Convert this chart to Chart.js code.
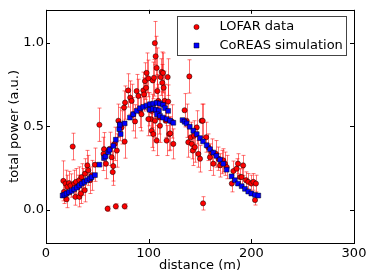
<!DOCTYPE html>
<html>
<head>
<meta charset="utf-8">
<script src="https://cdn.jsdelivr.net/npm/chart.js"></script>
<style>
  html, body { margin: 0; padding: 0; background: #fff; }
  #wrap { width: 374px; height: 280px; position: relative; }
</style>
</head>
<body>
<div id="wrap"><canvas id="chart"></canvas></div>
<script>
// LOFAR measurements (distance in m, power in a.u., error)
const distance = [16.9, 17.5, 19, 20, 20.8, 22.4, 24, 26, 27.5, 28.6, 29.2, 31, 32.5, 32.5, 34, 34.7, 36.4, 38, 37.7, 40.3,
  41.2, 42.9, 44.5, 47.7, 52, 56, 56.5, 58.4, 60, 62, 64, 65, 65.5, 67, 68, 69, 70.5, 72, 73.6, 76,
  76.6, 76.6, 77, 80, 82, 83.4, 85, 86.7, 88.3, 90, 91.6, 93, 94.8, 95.5, 96.4, 97.5, 98, 99.7, 100.6, 101.9,
  103, 104, 105.2, 106, 106.8, 107.8, 108.4, 109.4, 110.4, 111, 111.7, 112.7, 113.3, 114, 114.6, 115.6, 116.6, 117.5, 118.5, 119,
  120, 121, 122.4, 124, 107.8, 104.5, 106.2, 102.9, 99.7,
  135, 137, 138.6, 139.6, 141, 142, 143, 144.2, 145, 146.8, 148.4, 150, 151.6, 152.6, 153, 156, 158, 159.7, 161.4, 163,
  165.6, 168, 169.5, 171, 172.7, 174.3, 176, 181, 182.5, 185.7, 187, 189, 190.6, 192, 194.8, 197, 200, 202, 204.5, 203.6];
const power = [0.173, 0.107, 0.157, 0.062, 0.137, 0.16, 0.145, 0.379, 0.157, 0.077, 0.167, 0.137, 0.177, 0.077, 0.097, 0.196, 0.167, 0.216, 0.117, 0.266,
  0.236, 0.177, 0.206, 0.27, 0.51, 0.335, 0.363, 0.276, 0.006, 0.365, 0.315, 0.226, 0.262, 0.395, 0.02, 0.355, 0.534, 0.514, 0.494, 0.613,
  0.02, 0.409, 0.643, 0.716, 0.673, 0.653, 0.573, 0.53, 0.712, 0.683, 0.593, 0.573, 0.716, 0.692, 0.772, 0.732, 0.821, 0.788, 0.603, 0.544,
  0.474, 0.776, 0.792, 1.0, 0.921, 0.851, 0.712, 0.653, 0.554, 0.504, 0.796, 0.827, 0.762, 0.821, 0.732, 0.653, 0.534, 0.415, 0.796, 0.649,
  0.454, 0.458, 0.53, 0.395, 0.415, 0.454, 0.534, 0.593, 0.544,
  0.597, 0.534, 0.405, 0.8, 0.435, 0.395, 0.355, 0.444, 0.375, 0.494, 0.335, 0.306, 0.534, 0.534, 0.038, 0.435, 0.375, 0.315, 0.345, 0.276,
  0.335, 0.306, 0.266, 0.286, 0.296, 0.276, 0.256, 0.157, 0.232, 0.246, 0.276, 0.196, 0.196, 0.266, 0.177, 0.167, 0.157, 0.167, 0.157, 0.058];
const powerErr = [0.12, 0.07, 0.08, 0.05, 0.07, 0.07, 0.07, 0.08, 0.08, 0.05, 0.08, 0.07, 0.08, 0.06, 0.06, 0.08, 0.08, 0.09, 0.07, 0.09,
  0.09, 0.08, 0.09, 0.1, 0.1, 0.1, 0.1, 0.09, 0.015, 0.1, 0.09, 0.08, 0.09, 0.1, 0.015, 0.1, 0.1, 0.1, 0.1, 0.1,
  0.015, 0.1, 0.1, 0.1, 0.1, 0.1, 0.1, 0.1, 0.1, 0.1, 0.1, 0.1, 0.11, 0.1, 0.11, 0.1, 0.12, 0.11, 0.1, 0.1,
  0.1, 0.11, 0.11, 0.13, 0.12, 0.12, 0.1, 0.1, 0.1, 0.1, 0.11, 0.12, 0.11, 0.12, 0.1, 0.1, 0.1, 0.09, 0.11, 0.1,
  0.1, 0.1, 0.1, 0.09, 0.09, 0.1, 0.1, 0.1, 0.1,
  0.1, 0.1, 0.09, 0.1, 0.09, 0.09, 0.09, 0.09, 0.09, 0.1, 0.08, 0.08, 0.1, 0.1, 0.04, 0.09, 0.08, 0.08, 0.08, 0.07,
  0.08, 0.07, 0.07, 0.07, 0.07, 0.07, 0.07, 0.05, 0.06, 0.06, 0.06, 0.05, 0.05, 0.06, 0.05, 0.05, 0.05, 0.05, 0.05, 0.03];

// CoREAS simulation
const simDistance = [16.2, 18, 20, 22.5, 25, 27.5, 30, 32.5, 35, 37.5, 40, 42.5, 44.5, 47.7, 52, 56.5, 58, 60.7, 62, 65.6,
  68, 71.4, 72.7, 72, 76.6, 81.8, 85, 88.3, 91.6, 94.8, 98, 101.3, 104.5, 107.8, 111, 114, 116, 119, 101, 104,
  107, 110, 108, 111, 114, 117.5, 120.8, 124, 133, 135, 137, 140, 143.5, 146.8, 150, 153, 156.5, 159.7, 163, 166,
  169.5, 172.7, 176, 180.8, 184, 187, 190.6, 193.8, 197, 200, 203.6, 206.8];
const simPower = [0.085, 0.09, 0.097, 0.105, 0.113, 0.123, 0.133, 0.145, 0.157, 0.167, 0.177, 0.187, 0.196, 0.208, 0.27, 0.31, 0.32, 0.345, 0.36, 0.383,
  0.42, 0.484, 0.454, 0.51, 0.518, 0.553, 0.573, 0.593, 0.609, 0.617, 0.625, 0.633, 0.637, 0.641, 0.637, 0.629, 0.61, 0.593, 0.6, 0.605,
  0.6, 0.595, 0.573, 0.563, 0.553, 0.544, 0.534, 0.522, 0.538, 0.528, 0.518, 0.498, 0.474, 0.454, 0.43, 0.41, 0.387, 0.363, 0.343, 0.323,
  0.3, 0.276, 0.24, 0.2, 0.177, 0.157, 0.141, 0.125, 0.109, 0.097, 0.089, 0.085];

const xTicks = [0, 100, 200, 300];
const yTicks = [0, 0.5, 1.0];

Chart.defaults.font.family = "'DejaVu Sans'";
Chart.defaults.font.size = 13;
Chart.defaults.color = '#000';

const errorBars = {
  id: 'errorBars',
  beforeDatasetsDraw(chart) {
    const { ctx, scales: { x, y } } = chart;
    ctx.save();
    ctx.strokeStyle = 'rgba(255,0,0,0.55)';
    ctx.lineWidth = 1;
    distance.forEach((d, i) => {
      const px = Math.round(x.getPixelForValue(d)) + 0.5;
      const top = y.getPixelForValue(power[i] + powerErr[i]);
      const bot = y.getPixelForValue(power[i] - powerErr[i]);
      ctx.beginPath();
      ctx.moveTo(px, top); ctx.lineTo(px, bot);
      ctx.moveTo(px - 2, top); ctx.lineTo(px + 2, top);
      ctx.moveTo(px - 2, bot); ctx.lineTo(px + 2, bot);
      ctx.stroke();
    });
    ctx.restore();
  }
};

const frame = {
  id: 'frame',
  afterDraw(chart) {
    const { ctx, chartArea: a, scales: { x, y } } = chart;
    ctx.save();
    ctx.strokeStyle = '#000';
    ctx.lineWidth = 1;
    ctx.strokeRect(Math.round(a.left) + 0.5, Math.round(a.top) + 0.5,
      Math.round(a.right - a.left), Math.round(a.bottom - a.top));
    ctx.beginPath();
    xTicks.forEach(v => {
      const px = Math.round(x.getPixelForValue(v)) + 0.5;
      ctx.moveTo(px, a.bottom); ctx.lineTo(px, a.bottom - 4);
      ctx.moveTo(px, a.top); ctx.lineTo(px, a.top + 4);
    });
    yTicks.forEach(v => {
      const py = Math.round(y.getPixelForValue(v)) + 0.5;
      ctx.moveTo(a.left, py); ctx.lineTo(a.left + 4, py);
      ctx.moveTo(a.right, py); ctx.lineTo(a.right - 4, py);
    });
    ctx.stroke();

    // legend box in the upper right of the plot
    const bx = Math.round(a.right) - 7.5, by = Math.round(a.top) + 6.5;
    const bw = 169, bh = 39;
    ctx.fillStyle = '#fff';
    ctx.strokeStyle = '#444';
    ctx.fillRect(bx - bw, by, bw, bh);
    ctx.strokeRect(bx - bw, by, bw, bh);
    const ds = chart.data.datasets;
    const rows = [ds[1], ds[0]];
    ctx.font = "13px 'DejaVu Sans'";
    ctx.textBaseline = 'middle';
    rows.forEach((d, i) => {
      const cy = by + 10.5 + i * 18.5;
      const mx = bx - bw + 19;
      ctx.fillStyle = d.backgroundColor;
      ctx.strokeStyle = '#000';
      ctx.lineWidth = 0.5;
      ctx.beginPath();
      if (d.pointStyle === 'rect') ctx.rect(mx - 2.5, cy - 2.5, 5, 5);
      else ctx.arc(mx, cy, 2.6, 0, Math.PI * 2);
      ctx.fill(); ctx.stroke();
      ctx.fillStyle = '#000';
      ctx.fillText(d.label, bx - bw + 42, cy);
    });
    ctx.restore();
  }
};

new Chart(document.getElementById('chart'), {
  type: 'scatter',
  data: {
    datasets: [
      {
        label: 'CoREAS simulation',
        data: simDistance.map((d, i) => ({ x: d, y: simPower[i] })),
        backgroundColor: '#0000ff',
        borderColor: '#000',
        borderWidth: 0.5,
        pointStyle: 'rect',
        pointRadius: 3.4,
        order: 0
      },
      {
        label: 'LOFAR data',
        data: distance.map((d, i) => ({ x: d, y: power[i] })),
        backgroundColor: '#ff0000',
        borderColor: '#000',
        borderWidth: 0.5,
        pointStyle: 'circle',
        pointRadius: 2.6,
        order: 1
      }
    ]
  },
  options: {
    responsive: true,
    maintainAspectRatio: false,
    animation: false,
    devicePixelRatio: 1,
    layout: { padding: { top: 8, right: 20, left: 0, bottom: 0 } },
    plugins: { legend: { display: false }, tooltip: { enabled: false } },
    scales: {
      x: {
        type: 'linear',
        min: 0, max: 300,
        afterBuildTicks: s => { s.ticks = xTicks.map(v => ({ value: v })); },
        afterFit: s => { s.height = 37; },
        ticks: { padding: 3, maxRotation: 0 },
        grid: { display: false, drawTicks: false },
        border: { display: false },
        title: { display: true, text: 'distance (m)', padding: { top: 0, bottom: 7 } }
      },
      y: {
        type: 'linear',
        min: -0.2, max: 1.2,
        afterBuildTicks: s => { s.ticks = yTicks.map(v => ({ value: v })); },
        afterFit: s => { s.width = 46; },
        ticks: { padding: 2, callback: v => v.toFixed(1) },
        grid: { display: false, drawTicks: false },
        border: { display: false },
        title: { display: true, text: 'total power (a.u.)', padding: { top: 7, bottom: 0 } }
      }
    }
  },
  plugins: [errorBars, frame]
});
</script>
</body>
</html>
